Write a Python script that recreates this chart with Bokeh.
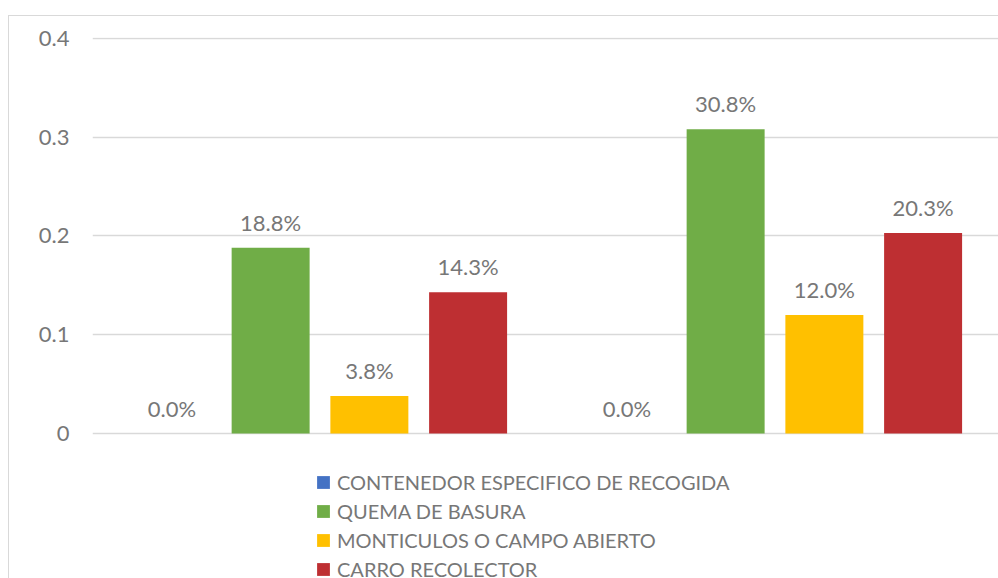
from bokeh.plotting import figure
from bokeh.models import (ColumnDataSource, Legend, LegendItem,
                          FixedTicker, Range1d)
from bokeh.transform import dodge
from bokeh.core.properties import value
from bokeh.embed import file_html
from bokeh.resources import INLINE

# ---- data ----
groups = ["Grupo 1", "Grupo 2"]
series = ["CONTENEDOR ESPECIFICO DE RECOGIDA", "QUEMA DE BASURA",
          "MONTICULOS O CAMPO ABIERTO", "CARRO RECOLECTOR"]
contenedor = [0.000, 0.000]
quema = [0.188, 0.308]
monticulos = [0.038, 0.120]
carro = [0.143, 0.203]
y_ticks = [0, 0.1, 0.2, 0.3, 0.4]
y_tick_labels = ["0", "0.1", "0.2", "0.3", "0.4"]

colors = ["#4472C4", "#70AD47", "#FFC000", "#BE2F32"]
all_values = [contenedor, quema, monticulos, carro]

FONT = "Lato"
GRAY = "#777777"

# frame: x 92..998, y 37..578 ; value 0 sits at y=433, 0.4 at y=38
y_top = 0.401
y_bottom = -145 * y_top / 396

p = figure(width=998, height=578, output_backend="svg", toolbar_location=None,
           x_range=Range1d(0, 906 / 455), y_range=Range1d(y_bottom, y_top),
           min_border_left=92, min_border_right=0, min_border_top=37,
           min_border_bottom=0)

p.outline_line_color = None
p.border_fill_color = None
p.background_fill_color = None
p.styles = {
    "background": ("linear-gradient(#D9D9D9,#D9D9D9) 8px 15px / 1px 100% no-repeat, "
                   "linear-gradient(#D9D9D9,#D9D9D9) 8px 15px / 100% 1px no-repeat, "
                   "#FFFFFF"),
}
p.xaxis.visible = False
p.xgrid.visible = False
p.ygrid.grid_line_color = "#D9D9D9"
p.ygrid.grid_line_width = 1.3

yax = p.yaxis[0]
yax.ticker = FixedTicker(ticks=y_ticks)
yax.major_label_overrides = {t: l for t, l in zip(y_ticks, y_tick_labels)}
yax.axis_line_color = None
yax.major_tick_line_color = None
yax.minor_tick_line_color = None
yax.major_label_standoff = 17
yax.major_label_text_font = FONT
yax.major_label_text_font_size = "22px"
yax.major_label_text_color = GRAY

pitch = 0.217
width = 0.1714
offsets = [-1.5 * pitch, -0.5 * pitch, 0.5 * pitch, 1.5 * pitch]

items = []
for name, vals, col, off in zip(series, all_values, colors, offsets):
    src = ColumnDataSource(dict(
        x=[i + 0.5 for i in range(len(groups))],
        v=vals,
        lab=[f"{v * 100:.1f}%" for v in vals],
    ))
    r = p.vbar(x=dodge("x", off), top="v", width=width, source=src,
               fill_color=col, line_color=None)
    p.text(x=dodge("x", off), y="v", text="lab", source=src,
           text_align="center", text_baseline="bottom", y_offset=-12,
           text_color=GRAY, text_font=value(FONT), text_font_size="22px")
    items.append(LegendItem(label=name, renderers=[r]))

legend = Legend(items=items, location=(223, -3), orientation="vertical",
                border_line_color=None, background_fill_alpha=0,
                padding=0, margin=0, glyph_width=16, glyph_height=16,
                label_standoff=6, spacing=5, label_height=20,
                label_text_font=FONT, label_text_font_size="20px",
                label_text_color=GRAY)
p.add_layout(legend, "center")

open("out.html", "w").write(file_html(p, INLINE))
